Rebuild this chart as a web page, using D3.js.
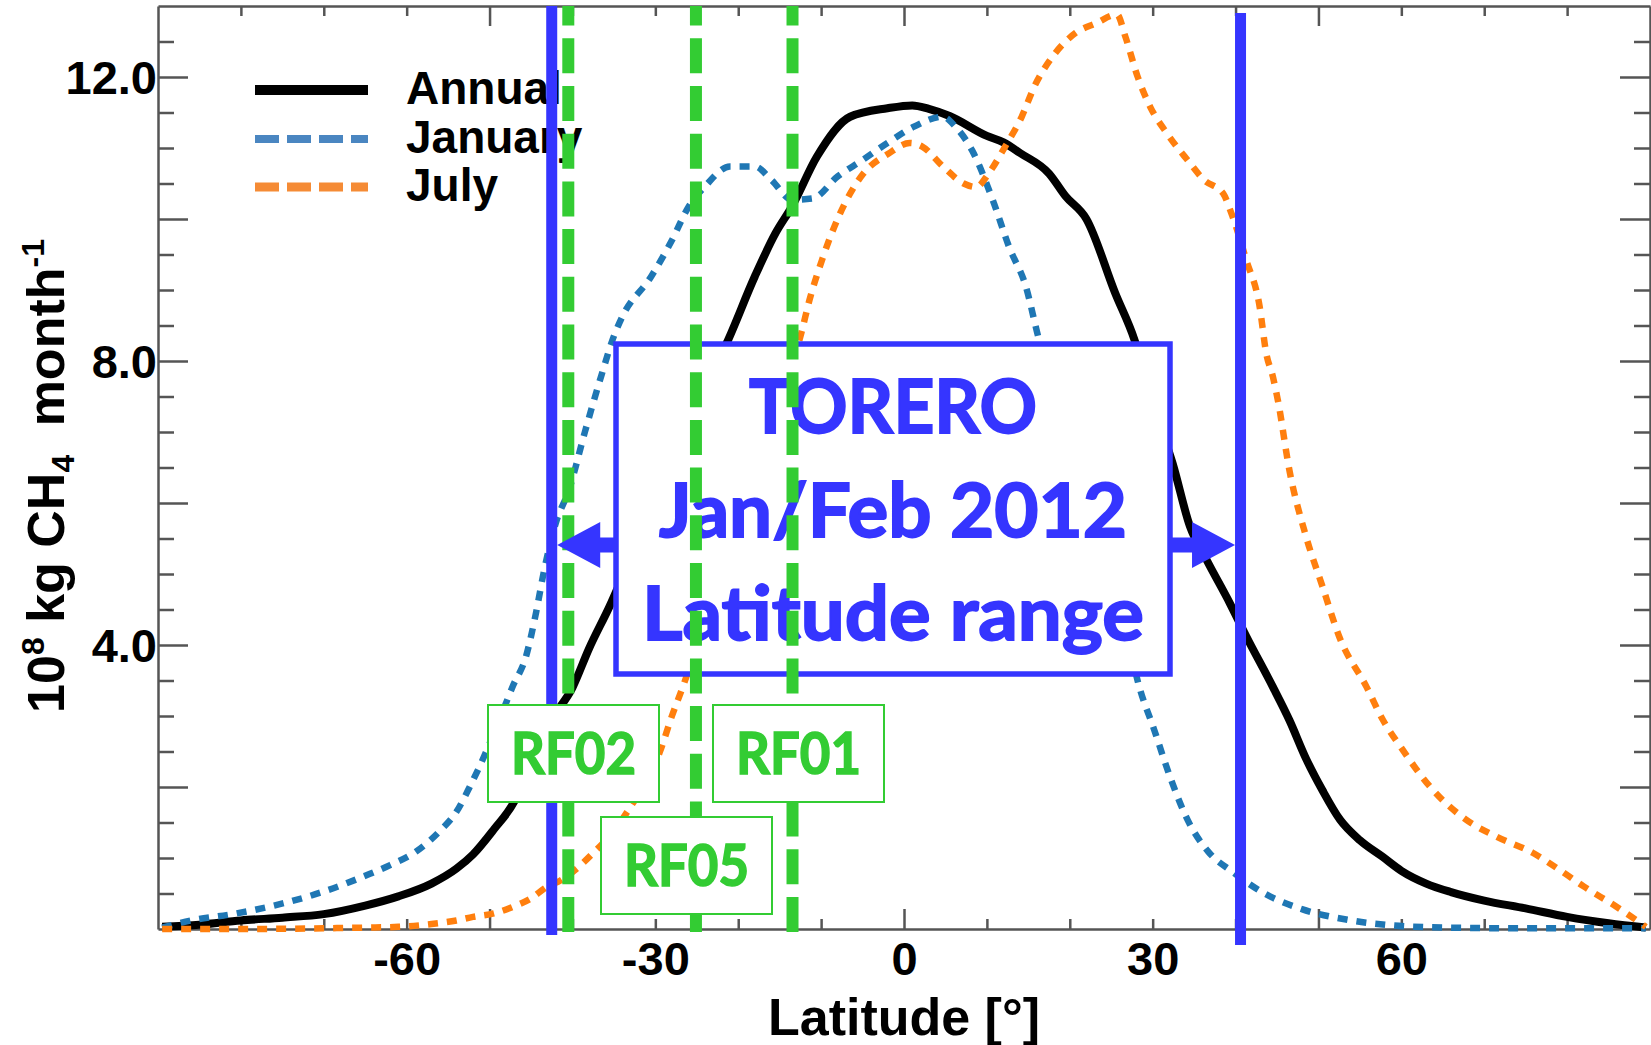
<!DOCTYPE html>
<html>
<head>
<meta charset="utf-8">
<script src="https://cdn.jsdelivr.net/npm/d3@7"></script>
<style>
  html, body { margin: 0; padding: 0; background: #fff; }
  svg { display: block; }
</style>
</head>
<body>
<svg id="chart" width="1651" height="1045"></svg>
<script>
// Zonal methane emission profiles: latitude (deg) vs 10^8 kg CH4 per month
const annualLat = [-89.5,-85,-80,-75,-70,-65,-61,-57,-54,-52,-49.5,-47,-45,-42.5,-40,-38,-35.5,-32,-29,-26,-23.5,-21.4,-18,-15.5,-13.5,-10.5,-6.5,-2,1,3,5.5,10,12,14,17.5,19.5,22,25.5,27.8,30,32.4,34.5,36.5,39.3,41.3,44.5,46.5,48.5,50.5,52.6,55,57.7,60,63,66,70,75,80,85,89.5];
const annualVal = [0.03,0.06,0.12,0.16,0.21,0.33,0.46,0.64,0.85,1.05,1.4,1.8,2.35,2.95,3.4,3.95,4.55,5.5,6.3,7.0,7.75,8.25,9.19,9.8,10.18,10.88,11.44,11.56,11.6,11.55,11.45,11.17,11.08,10.93,10.64,10.32,10.0,8.95,8.3,7.4,6.56,5.67,5.2,4.59,4.12,3.41,2.94,2.4,1.95,1.54,1.25,1.02,0.82,0.64,0.52,0.4,0.29,0.17,0.08,0.02];

const janLat = [-89.5,-86,-81,-76,-71,-68,-65,-62,-59,-56,-54,-52.4,-51.2,-48.8,-47.2,-45.6,-44.4,-43.4,-42,-40.4,-38.5,-36.5,-35,-34,-30.5,-28,-26,-24,-21,-18,-16,-13.5,-11,-8,-5,-2,1.2,4.7,6.2,8.2,10.7,12.7,14.7,16.2,19,21,23,25,27,28.2,30.2,32.2,34.2,36.7,39.7,43.5,48,54,59,65,75,89.5];
const janVal = [0.02,0.12,0.21,0.33,0.49,0.61,0.75,0.9,1.08,1.38,1.65,2.0,2.29,2.95,3.42,3.84,4.45,5.06,5.72,6.19,7.0,7.8,8.35,8.62,9.19,9.7,10.17,10.46,10.74,10.74,10.55,10.27,10.29,10.6,10.83,11.07,11.3,11.44,11.3,10.97,10.27,9.6,9.05,8.34,7.3,6.5,5.7,4.9,4.1,3.49,2.8,2.11,1.54,1.09,0.8,0.5,0.28,0.12,0.05,0.02,0.01,0.01];

const julLat = [-89.5,-80,-70,-65,-61,-57,-54,-52,-49.5,-47,-45,-43,-41.5,-39.5,-37.5,-35,-33,-31,-29.5,-28,-26.5,-24,-22,-20,-18,-16,-14,-12.4,-11.4,-9.9,-7.9,-4.9,-1.9,0.7,2.2,4.7,7.2,8.7,10.2,12.2,14.2,15.7,18.2,20.7,23.2,25.7,26.7,28.2,29.7,31.7,34.2,36.2,38.5,39.5,41.3,42.9,43.7,44.5,45.1,46.5,48.5,50.5,52.5,55.8,57.8,60,63.5,67.8,71.5,75.9,79.5,82,86,89.5];
const julVal = [0.0,0.0,0.01,0.02,0.03,0.07,0.12,0.17,0.22,0.32,0.43,0.6,0.68,0.85,1.07,1.38,1.72,2.1,2.48,3.0,3.47,4.4,5.1,5.8,6.5,7.1,7.75,8.39,8.86,9.42,10.03,10.64,10.92,11.07,11.02,10.74,10.5,10.45,10.64,11.02,11.44,11.86,12.33,12.62,12.76,12.88,12.57,12.0,11.58,11.21,10.83,10.55,10.36,10.08,9.42,8.77,8.11,7.78,7.45,6.46,5.53,4.82,4.12,3.41,2.94,2.55,2.0,1.54,1.3,1.07,0.8,0.6,0.31,0.03];

const seriesNames = ["Annual", "January", "July"];
const xTickLabels = [-60, -30, 0, 30, 60];
const yTickLabels = [4, 8, 12];

// TORERO campaign latitude span and research-flight tracks
const campaignLat = [-42.5, 40.6];
const campaignText = ["TORERO", "Jan/Feb 2012", "Latitude range"];
const flightNames = ["RF02", "RF05", "RF01"];
const flightLat = [-40.5, -25.1, -13.45];

// ---------------------------------------------------------------------------
const svg = d3.select("#chart");
const x = d3.scaleLinear().domain([-90, 90]).range([158, 1650]);
const y = d3.scaleLinear().domain([0, 13]).range([929, 6]);

const axisColor = "#555";
const tickFont = "bold 47px 'Liberation Sans', Arial, sans-serif";
const xTicks = d3.range(-80, 81, 10);
const yTicks = d3.range(0.5, 13, 0.5);
const xLen = d => (d % 50 === 0 ? 20 : 10);
const yLen = d => (d % 2 === 0 ? 30 : 16);

function styleAxis(g) {
  g.select(".domain").attr("stroke", axisColor).attr("stroke-width", 2.5);
  g.selectAll(".tick line").attr("stroke", axisColor).attr("stroke-width", 2.5);
  g.selectAll(".tick text").attr("fill", "#000").style("font", tickFont);
}

// bottom axis with inward ticks
const gB = svg.append("g").attr("transform", `translate(0,${y(0)})`)
  .call(d3.axisBottom(x).tickValues(xTicks).tickSizeOuter(0)
    .tickFormat(d => xTickLabels.includes(d) ? String(d) : ""));
gB.selectAll(".tick line").attr("y2", d => -xLen(d));
gB.selectAll(".tick text").attr("y", 46).attr("dy", 0);
styleAxis(gB);

// top axis
const gT = svg.append("g").attr("transform", `translate(0,${y(13)})`)
  .call(d3.axisTop(x).tickValues(xTicks).tickSizeOuter(0).tickFormat(""));
gT.selectAll(".tick line").attr("y2", d => xLen(d));
styleAxis(gT);

// left axis
const gL = svg.append("g").attr("transform", `translate(${x(-90)},0)`)
  .call(d3.axisLeft(y).tickValues(yTicks).tickSizeOuter(0)
    .tickFormat(d => yTickLabels.includes(d) ? d.toFixed(1) : ""));
gL.selectAll(".tick line").attr("x2", d => yLen(d));
gL.selectAll(".tick text").attr("x", -1).attr("dy", "0.36em");
styleAxis(gL);

// right axis
const gR = svg.append("g").attr("transform", `translate(${x(90)},0)`)
  .call(d3.axisRight(y).tickValues(yTicks).tickSizeOuter(0).tickFormat(""));
gR.selectAll(".tick line").attr("x2", d => -yLen(d));
styleAxis(gR);

// axis titles
svg.append("text")
  .attr("x", (x(-90) + x(90)) / 2).attr("y", 1035)
  .attr("text-anchor", "middle")
  .style("font", "bold 52px 'Liberation Sans', Arial, sans-serif")
  .text("Latitude [°]");

const yTitle = svg.append("text")
  .attr("transform", "translate(64,476) rotate(-90)")
  .attr("text-anchor", "middle")
  .style("font", "bold 52px 'Liberation Sans', Arial, sans-serif");
yTitle.append("tspan").text("10");
yTitle.append("tspan").attr("dy", -20).style("font-size", "32px").text("8");
yTitle.append("tspan").attr("dy", 20).text(" kg CH");
yTitle.append("tspan").attr("dy", 10).style("font-size", "32px").text("4");
yTitle.append("tspan").attr("dy", -10).attr("dx", 14).text(" month");
yTitle.append("tspan").attr("dy", -20).style("font-size", "32px").text("-1");

// legend
const legendY = [90, 139, 187];
const legendColor = ["#000000", "#4a86c1", "#f58b35"];
const legendWidth = [10, 8, 9];
const legendDash = [null, "24,8", "24,8"];
const legend = svg.append("g");
seriesNames.forEach((name, i) => {
  legend.append("line")
    .attr("x1", 255).attr("x2", 368)
    .attr("y1", legendY[i]).attr("y2", legendY[i])
    .attr("stroke", legendColor[i]).attr("stroke-width", legendWidth[i])
    .attr("stroke-dasharray", legendDash[i]);
  legend.append("text")
    .attr("x", 406).attr("y", legendY[i] + 14)
    .style("font", "bold 46px 'Liberation Sans', Arial, sans-serif")
    .text(name);
});

// data curves
svg.append("clipPath").attr("id", "plotClip")
  .append("rect").attr("x", x(-90)).attr("y", y(13))
  .attr("width", x(90) - x(-90)).attr("height", y(0) - y(13) + 4);

const line = d3.line().x(d => x(d[0])).y(d => y(d[1])).curve(d3.curveMonotoneX);
const curves = svg.append("g").attr("clip-path", "url(#plotClip)");
const series = [
  { data: d3.zip(annualLat, annualVal), color: "#000000", width: 8, dash: null },
  { data: d3.zip(janLat, janVal), color: "#1f77b4", width: 6.5, dash: "10,9" },
  { data: d3.zip(julLat, julVal), color: "#ff7f0e", width: 6.5, dash: "10,9" }
];
series.forEach(s => {
  curves.append("path")
    .attr("d", line(s.data))
    .attr("fill", "none")
    .attr("stroke", s.color)
    .attr("stroke-width", s.width)
    .attr("stroke-linejoin", "round")
    .attr("stroke-dasharray", s.dash);
});

// campaign latitude bounds
const blue = "#3535ff";
const boundTop = [6, 13];
const boundBottom = [935, 945];
campaignLat.forEach((lat, i) => {
  svg.append("line")
    .attr("x1", x(lat)).attr("x2", x(lat))
    .attr("y1", boundTop[i]).attr("y2", boundBottom[i])
    .attr("stroke", blue).attr("stroke-width", 11);
});

// campaign label box
const box = { x0: 616, x1: 1170, y0: 344, y1: 674 };
svg.append("rect")
  .attr("x", box.x0).attr("y", box.y0)
  .attr("width", box.x1 - box.x0).attr("height", box.y1 - box.y0)
  .attr("fill", "#fff").attr("stroke", blue).attr("stroke-width", 5.5);
const boxLineY = [433, 537, 640];
const boxLineW = [288, 468, 502];
campaignText.forEach((t, i) => {
  svg.append("text")
    .attr("x", (box.x0 + box.x1) / 2).attr("y", boxLineY[i])
    .attr("text-anchor", "middle")
    .attr("textLength", boxLineW[i]).attr("lengthAdjust", "spacingAndGlyphs")
    .attr("fill", blue).attr("stroke", blue).attr("stroke-width", 1.8)
    .style("font", "bold 74px Lato, 'Open Sans', sans-serif")
    .text(t);
});

// flight track lines
const green = "#33cc33";
flightLat.forEach(lat => {
  svg.append("line")
    .attr("x1", x(lat)).attr("x2", x(lat))
    .attr("y1", 6).attr("y2", 933)
    .attr("stroke", green).attr("stroke-width", 12)
    .attr("stroke-dasharray", "35,12.7").attr("stroke-dashoffset", 15.4);
});

// arrows from the label box to the bounds
const arrowY = 545;
const leftTip = x(campaignLat[0]) + 5.5;
const rightTip = x(campaignLat[1]) - 5.5;
svg.append("path")
  .attr("d", `M${box.x0},${arrowY - 7.5}H${leftTip + 43}V${arrowY - 23}L${leftTip},${arrowY}L${leftTip + 43},${arrowY + 23}V${arrowY + 7.5}H${box.x0}Z`)
  .attr("fill", blue);
svg.append("path")
  .attr("d", `M${box.x1},${arrowY - 7.5}H${rightTip - 43}V${arrowY - 23}L${rightTip},${arrowY}L${rightTip - 43},${arrowY + 23}V${arrowY + 7.5}H${box.x1}Z`)
  .attr("fill", blue);

// flight labels
const flightBoxX = [488, 601, 713];
const flightBoxY = [705, 817, 705];
flightNames.forEach((name, i) => {
  svg.append("rect")
    .attr("x", flightBoxX[i]).attr("y", flightBoxY[i])
    .attr("width", 171).attr("height", 97)
    .attr("fill", "#fff").attr("stroke", green).attr("stroke-width", 2);
  svg.append("text")
    .attr("x", flightBoxX[i] + 85.5).attr("y", flightBoxY[i] + 69)
    .attr("text-anchor", "middle")
    .attr("textLength", 125).attr("lengthAdjust", "spacingAndGlyphs")
    .attr("fill", green).attr("stroke", green).attr("stroke-width", 1.5)
    .style("font", "bold 57px Lato, 'Open Sans', sans-serif")
    .text(name);
});
</script>
</body>
</html>
